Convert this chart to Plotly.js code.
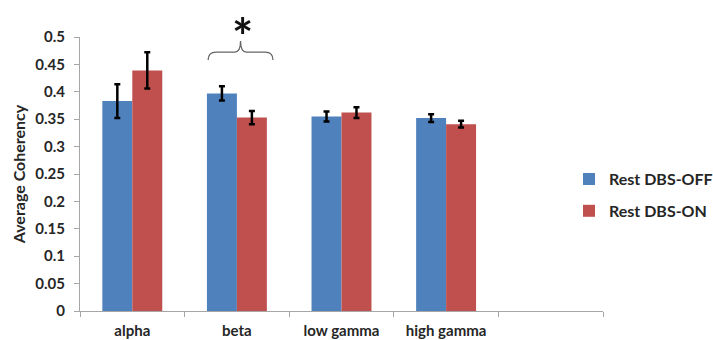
<!DOCTYPE html>
<html>
<head>
<meta charset="utf-8">
<script src="https://cdn.plot.ly/plotly-3.0.1.min.js"></script>
<style>html,body{margin:0;padding:0;background:#fff;}#chart{width:713px;height:340px;}</style>
</head>
<body>
<div id="chart"></div>
<script>
const categories = ['alpha', 'beta', 'low gamma', 'high gamma'];
const axisCategories = ['alpha', 'beta', 'low gamma', 'high gamma', ' '];
const seriesNames = ['Rest DBS-OFF', 'Rest DBS-ON'];
const offValues = [0.383, 0.397, 0.355, 0.352];
const offErrors = [0.031, 0.013, 0.009, 0.007];
const onValues = [0.439, 0.353, 0.362, 0.341];
const onErrors = [0.033, 0.012, 0.010, 0.006];
const yTicks = [0, 0.05, 0.1, 0.15, 0.2, 0.25, 0.3, 0.35, 0.4, 0.45, 0.5];
const yTickLabels = ['0', '0.05', '0.1', '0.15', '0.2', '0.25', '0.3', '0.35', '0.4', '0.45', '0.5'];

const fontFamily = 'Lato, "Open Sans", sans-serif';
const textColor = '#262626';
const errStyle = {type: 'data', visible: true, color: '#000', thickness: 2.5, width: 3};

const traces = [
  {type: 'bar', name: seriesNames[0], legendgroup: 'off', x: categories, y: offValues,
   marker: {color: '#4F81BD'}, error_y: Object.assign({array: offErrors}, errStyle)},
  {type: 'bar', name: seriesNames[1], legendgroup: 'on', x: categories, y: onValues,
   marker: {color: '#C0504D'}, error_y: Object.assign({array: onErrors}, errStyle)}
];

const layout = {
  width: 713, height: 340,
  margin: {l: 80, r: 110, t: 37, b: 29, autoexpand: false},
  paper_bgcolor: '#fff', plot_bgcolor: '#fff',
  font: {family: fontFamily, color: textColor},
  barmode: 'group', bargap: 0.427, bargroupgap: 0,
  showlegend: true,
  legend: {x: 0.935, y: 0.423, xanchor: 'left', yanchor: 'middle', xref: 'paper',
           font: {size: 16, family: fontFamily, weight: 'bold', color: textColor},
           itemwidth: 30, tracegroupgap: 8, bgcolor: 'rgba(0,0,0,0)'},
  xaxis: {type: 'category', categoryorder: 'array', categoryarray: axisCategories,
          range: [-0.5, 4.5], tickson: 'boundaries', ticks: 'outside', ticklen: 5,
          tickcolor: '#a6a6a6', showline: true, linecolor: '#a6a6a6', linewidth: 1,
          showgrid: false, zeroline: false, ticklabelstandoff: 6,
          tickfont: {size: 15, family: fontFamily, weight: 'bold', color: textColor}},
  yaxis: {range: [0, 0.5], tickvals: yTicks, ticktext: yTickLabels,
          ticks: 'outside', ticklen: 5, tickcolor: '#a6a6a6',
          showline: true, linecolor: '#a6a6a6', linewidth: 1,
          showgrid: false, zeroline: false, ticklabelstandoff: 6,
          tickfont: {size: 15, family: fontFamily, weight: 'bold', color: textColor},
          title: {text: 'Average Coherency', standoff: 5,
                  font: {size: 16, family: fontFamily, weight: 'bold', color: textColor}}},
  shapes: [{
    type: 'path', xref: 'paper', yref: 'paper',
    path: 'M 0.245 0.916 Q 0.245 0.945 0.26 0.945 L 0.296 0.945 Q 0.307 0.945 0.307 0.985 Q 0.307 0.945 0.318 0.945 L 0.354 0.945 Q 0.369 0.945 0.369 0.916',
    line: {color: '#666', width: 1.3}
  }],
  annotations: [{
    xref: 'paper', yref: 'paper', x: 0.31, y: 1.005, yanchor: 'middle', xanchor: 'center',
    text: '*', showarrow: false, font: {size: 50, family: fontFamily, weight: 'bold', color: '#111'}
  }]
};

Plotly.newPlot('chart', traces, layout, {displayModeBar: false, staticPlot: true});
</script>
</body>
</html>
